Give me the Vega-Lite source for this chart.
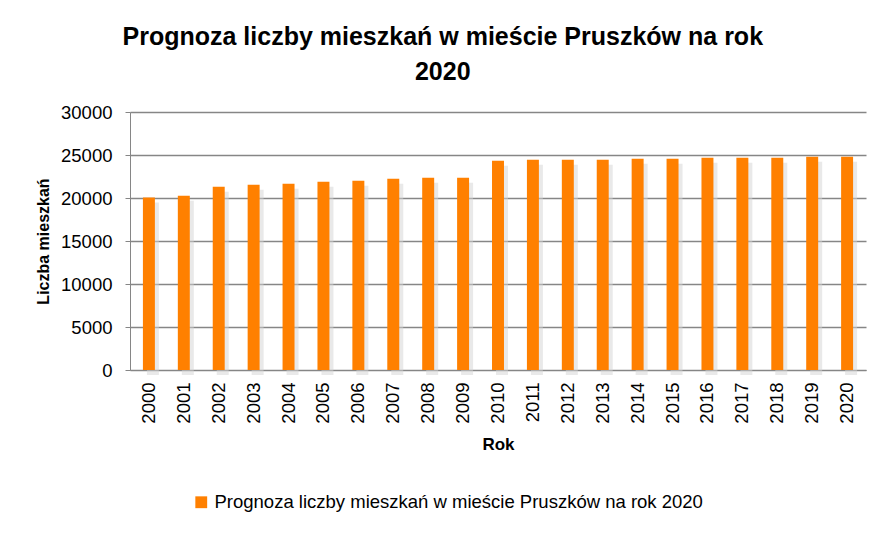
{
  "$schema": "https://vega.github.io/schema/vega-lite/v6.json",
  "width": 888,
  "height": 534,
  "autosize": {"type": "fit", "contains": "padding"},
  "padding": {"left": 35, "right": 22, "top": 25, "bottom": 81},
  "background": "white",
  "title": {
    "text": ["Prognoza liczby mieszkań w mieście Pruszków na rok", "2020"],
    "font": "Liberation Sans",
    "fontSize": 25,
    "fontWeight": "bold",
    "color": "#000000",
    "lineHeight": 35,
    "anchor": "middle",
    "frame": "bounds",
    "offset": 18,
    "dx": -8
  },
  "data": {
    "values": [
      {"rok": "2000", "liczba": 20050, "seria": "Prognoza liczby mieszkań w mieście Pruszków na rok 2020"},
      {"rok": "2001", "liczba": 20270, "seria": "Prognoza liczby mieszkań w mieście Pruszków na rok 2020"},
      {"rok": "2002", "liczba": 21310, "seria": "Prognoza liczby mieszkań w mieście Pruszków na rok 2020"},
      {"rok": "2003", "liczba": 21540, "seria": "Prognoza liczby mieszkań w mieście Pruszków na rok 2020"},
      {"rok": "2004", "liczba": 21660, "seria": "Prognoza liczby mieszkań w mieście Pruszków na rok 2020"},
      {"rok": "2005", "liczba": 21900, "seria": "Prognoza liczby mieszkań w mieście Pruszków na rok 2020"},
      {"rok": "2006", "liczba": 22010, "seria": "Prognoza liczby mieszkań w mieście Pruszków na rok 2020"},
      {"rok": "2007", "liczba": 22240, "seria": "Prognoza liczby mieszkań w mieście Pruszków na rok 2020"},
      {"rok": "2008", "liczba": 22360, "seria": "Prognoza liczby mieszkań w mieście Pruszków na rok 2020"},
      {"rok": "2009", "liczba": 22360, "seria": "Prognoza liczby mieszkań w mieście Pruszków na rok 2020"},
      {"rok": "2010", "liczba": 24340, "seria": "Prognoza liczby mieszkań w mieście Pruszków na rok 2020"},
      {"rok": "2011", "liczba": 24450, "seria": "Prognoza liczby mieszkań w mieście Pruszków na rok 2020"},
      {"rok": "2012", "liczba": 24450, "seria": "Prognoza liczby mieszkań w mieście Pruszków na rok 2020"},
      {"rok": "2013", "liczba": 24450, "seria": "Prognoza liczby mieszkań w mieście Pruszków na rok 2020"},
      {"rok": "2014", "liczba": 24570, "seria": "Prognoza liczby mieszkań w mieście Pruszków na rok 2020"},
      {"rok": "2015", "liczba": 24570, "seria": "Prognoza liczby mieszkań w mieście Pruszków na rok 2020"},
      {"rok": "2016", "liczba": 24690, "seria": "Prognoza liczby mieszkań w mieście Pruszków na rok 2020"},
      {"rok": "2017", "liczba": 24690, "seria": "Prognoza liczby mieszkań w mieście Pruszków na rok 2020"},
      {"rok": "2018", "liczba": 24690, "seria": "Prognoza liczby mieszkań w mieście Pruszków na rok 2020"},
      {"rok": "2019", "liczba": 24800, "seria": "Prognoza liczby mieszkań w mieście Pruszków na rok 2020"},
      {"rok": "2020", "liczba": 24800, "seria": "Prognoza liczby mieszkań w mieście Pruszków na rok 2020"}
    ]
  },
  "encoding": {
    "x": {
      "field": "rok",
      "type": "ordinal",
      "scale": {"paddingInner": 0.657, "paddingOuter": 0.37},
      "axis": {
        "title": "Rok",
        "titleFont": "Liberation Sans",
        "titleFontSize": 17,
        "titleFontWeight": "bold",
        "titleColor": "#000000",
        "titlePadding": 13,
        "labelAngle": -90,
        "labelFont": "Liberation Sans",
        "labelFontSize": 18.5,
        "labelColor": "#000000",
        "labelPadding": 12,
        "ticks": false,
        "domainColor": "#868686",
        "domainWidth": 1
      }
    },
    "y": {
      "field": "liczba",
      "type": "quantitative",
      "scale": {"domain": [0, 30000]},
      "axis": {
        "title": "Liczba mieszkań",
        "titleFont": "Liberation Sans",
        "titleFontSize": 16,
        "titleFontWeight": "bold",
        "titleColor": "#000000",
        "titlePadding": 9,
        "values": [0, 5000, 10000, 15000, 20000, 25000, 30000],
        "format": "d",
        "labelFont": "Liberation Sans",
        "labelFontSize": 18.5,
        "labelColor": "#000000",
        "labelPadding": 13,
        "tickColor": "#868686",
        "tickSize": 5,
        "domainColor": "#868686",
        "gridColor": "#868686",
        "gridWidth": 1.3
      }
    }
  },
  "layer": [
    {
      "mark": {"type": "bar", "color": "#d4d4d4", "opacity": 0.5, "xOffset": 4, "yOffset": 5, "y2Offset": -5}
    },
    {
      "mark": {"type": "bar"},
      "encoding": {
        "color": {
          "field": "seria",
          "type": "nominal",
          "scale": {"range": ["#FF8000"]},
          "legend": {
            "orient": "none",
            "legendX": 62,
            "legendY": 381,
            "title": null,
            "symbolType": "square",
            "symbolSize": 140,
            "labelFont": "Liberation Sans",
            "labelFontSize": 18.5,
            "labelColor": "#000000",
            "labelLimit": 700
          }
        }
      }
    }
  ],
  "config": {
    "view": {"stroke": null}
  }
}
